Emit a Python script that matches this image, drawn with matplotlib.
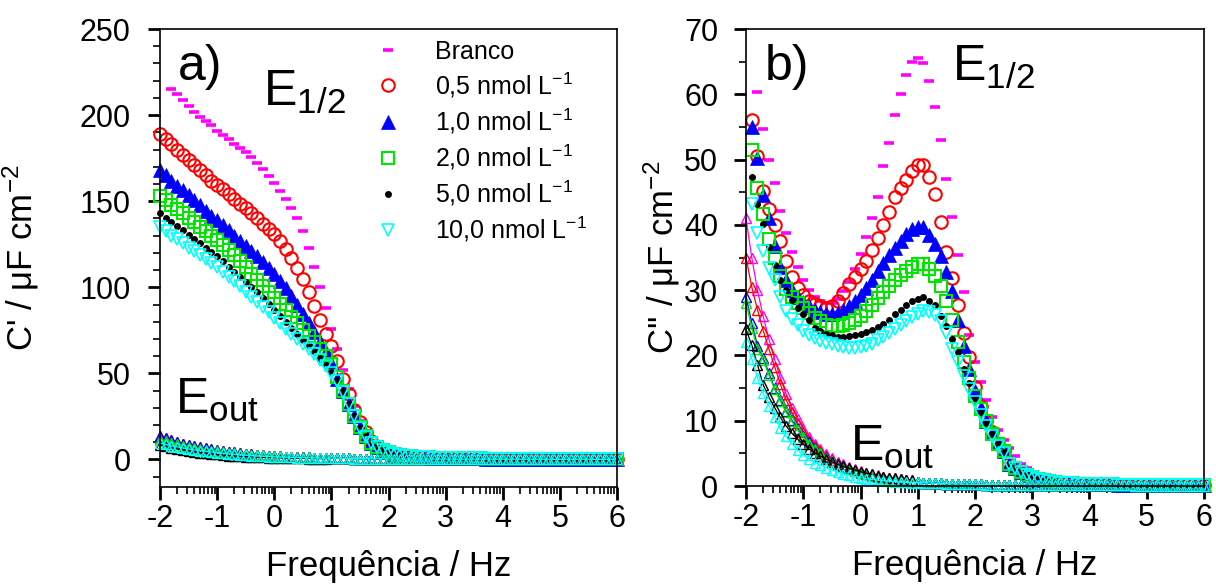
import numpy as np
import matplotlib.pyplot as plt
from matplotlib.ticker import MultipleLocator, LogLocator, FuncFormatter, NullFormatter

plt.rcParams['font.family'] = ['Liberation Sans', 'DejaVu Sans']
plt.rcParams['mathtext.fontset'] = 'custom'
plt.rcParams['mathtext.rm'] = 'Liberation Sans'
plt.rcParams['mathtext.it'] = 'Liberation Sans:italic'
plt.rcParams['mathtext.default'] = 'regular'

# measurement grid: log10(f / Hz) from -2 to 6, 10 points per decade
log_f = np.round(np.linspace(-2, 6, 81), 1)
freq = 10.0 ** log_f

labels = ["Branco", "0,5 nmol L$^{-1}$", "1,0 nmol L$^{-1}$",
          "2,0 nmol L$^{-1}$", "5,0 nmol L$^{-1}$", "10,0 nmol L$^{-1}$"]
colors = ["#ff00ff", "#ff0000", "#0000ff", "#00e600", "#000000", "#00ffff"]

# ---------------- panel a) C' , E1/2 ----------------
# high frequency part where all curves coincide (log f = 1.9 ... 6.0)
tail_a = [5.5, 4.2, 3.3, 2.7, 2.2, 1.9, 1.6, 1.4, 1.25, 1.1,
          1.0, 0.9, 0.82, 0.75, 0.7, 0.65, 0.6, 0.56, 0.52, 0.49,
          0.46, 0.43, 0.4, 0.38, 0.36, 0.34, 0.32, 0.3, 0.29, 0.28,
          0.27, 0.26, 0.25, 0.24, 0.23, 0.22, 0.21, 0.2, 0.2, 0.19,
          0.18, 0.18]
# log f = -1.8 ... 1.8
branco_a = [215, 212, 209, 205.5, 202, 199, 196.5, 194, 191, 188.5,
            186, 183.5, 181, 178.5, 175.5, 172, 168.5, 164.5, 160.5, 156,
            151.5, 146, 140, 132.5, 123, 112, 100, 88, 76, 64,
            52, 41, 31, 22.5, 15.5, 10.5, 7.5] + tail_a
# log f = -2.0 ... 1.8
c05_a = [189, 186, 183, 180, 177, 174, 171, 168, 165, 162,
         159.5, 157, 154, 151, 148.5, 146, 143, 140, 137, 134,
         131, 127, 122, 117, 111, 105, 97, 89, 81, 73,
         66, 57, 47, 38, 29, 22, 16, 11, 7.5] + tail_a
c10_a = [168, 165, 162, 159, 156.5, 153.5, 150.5, 147.5, 144.5, 141.5,
         139, 136, 133, 130, 127, 124, 121, 118, 114.5, 111,
         107.5, 103.5, 99.5, 95, 90, 84.5, 79.5, 74, 68.5, 62.5,
         56, 47, 39.5, 32, 25.5, 19, 13.5, 9.5, 7] + tail_a
c20_a = [153, 150.5, 148, 145.5, 143, 140.5, 138, 135, 132.5, 130,
         127.5, 124.5, 121.5, 118.5, 115, 111.5, 108, 104.5, 101, 97.5,
         94, 90.5, 87, 83, 79, 75, 71.5, 68, 64, 60,
         55.5, 48, 40, 32.5, 25.5, 19, 13.5, 9.5, 7] + tail_a
c50_a = [143, 140.5, 138, 135.5, 133, 130.5, 128, 125.5, 123, 120.5,
         118, 115, 112, 109, 106, 103, 100, 97, 93.5, 90.5,
         87, 83.5, 80, 76.5, 73, 69.5, 66.5, 63, 59, 55,
         51, 46, 39.5, 32, 25, 18.5, 13.5, 9.5, 7] + tail_a
c100_a = [135, 132.5, 130, 128, 125.5, 123, 121, 118.5, 116.5, 114,
          112, 109, 106, 103.5, 100.5, 97.5, 94.5, 91.5, 88.5, 85.5,
          82, 79, 76, 73, 70, 67, 64, 61, 57.5, 54,
          50, 45.5, 39, 32, 25, 18.5, 13, 9.5, 7] + tail_a

# ---------------- panel a) C' , Eout ----------------
tail_out_a = [0.8, 0.72, 0.65, 0.6, 0.55, 0.5, 0.46, 0.42, 0.39, 0.36,
              0.33, 0.31, 0.29, 0.27, 0.25, 0.24, 0.23, 0.22, 0.21, 0.2,
              0.19, 0.18, 0.17, 0.16, 0.15, 0.15, 0.14, 0.14, 0.13, 0.13,
              0.12, 0.12, 0.11, 0.11, 0.1, 0.1, 0.1, 0.09, 0.09, 0.09,
              0.08, 0.08, 0.08, 0.08, 0.07, 0.07, 0.07, 0.07, 0.06, 0.06,
              0.06]
# log f = -2.0 ... 0.9
out_a = [
    [13.5, 12.2, 11.1, 10.1, 9.2, 8.4, 7.6, 7.0, 6.4, 5.9, 5.4, 4.9, 4.5, 4.1, 3.7,
     3.4, 3.1, 2.8, 2.5, 2.3, 2.1, 1.9, 1.7, 1.55, 1.4, 1.3, 1.2, 1.1, 1.0, 0.9],
    [12.5, 11.4, 10.4, 9.5, 8.7, 8.0, 7.3, 6.7, 6.1, 5.6, 5.1, 4.7, 4.3, 3.9, 3.6,
     3.3, 3.0, 2.7, 2.45, 2.2, 2.0, 1.8, 1.65, 1.5, 1.35, 1.25, 1.15, 1.05, 0.95, 0.85],
    [13.8, 12.4, 11.2, 10.2, 9.2, 8.4, 7.6, 7.0, 6.4, 5.9, 5.4, 4.9, 4.5, 4.1, 3.7,
     3.4, 3.1, 2.8, 2.5, 2.3, 2.1, 1.9, 1.7, 1.55, 1.4, 1.3, 1.2, 1.1, 1.0, 0.9],
    [11.5, 10.5, 9.6, 8.8, 8.1, 7.4, 6.8, 6.2, 5.7, 5.2, 4.8, 4.4, 4.0, 3.7, 3.4,
     3.1, 2.8, 2.6, 2.35, 2.15, 1.95, 1.8, 1.6, 1.5, 1.35, 1.25, 1.15, 1.05, 0.95, 0.85],
    [8.5, 7.6, 6.8, 6.1, 5.5, 4.9, 4.4, 4.0, 3.6, 3.2, 2.9, 2.6, 2.3, 2.1, 1.9,
     1.7, 1.5, 1.35, 1.2, 1.1, 1.0, 0.9, 0.8, 0.72, 0.65, 0.6, 0.55, 0.5, 0.46, 0.42],
    [9.5, 8.7, 8.0, 7.3, 6.7, 6.1, 5.6, 5.1, 4.7, 4.3, 3.9, 3.6, 3.3, 3.0, 2.7,
     2.5, 2.3, 2.1, 1.9, 1.7, 1.55, 1.4, 1.3, 1.2, 1.1, 1.0, 0.9, 0.82, 0.75, 0.7],
]
out_a = [s + tail_out_a for s in out_a]

# ---------------- panel b) C'' , E1/2 ----------------
# log f = 2.6 ... 6.0
tail_b = [3.4, 2.7, 2.1, 1.7, 1.35, 1.1, 0.9, 0.75, 0.62, 0.52,
          0.45, 0.4, 0.36, 0.33, 0.3, 0.28, 0.26, 0.25, 0.24, 0.23,
          0.22, 0.21, 0.2, 0.2, 0.19, 0.19, 0.18, 0.18, 0.17, 0.17,
          0.17, 0.16, 0.16, 0.16, 0.15]
# log f = -1.8 ... 3.0
branco_b = [60.3, 54.7, 50, 46.4, 42.2, 38.8, 35.9, 33.5, 31.6, 30,
            28.9, 28.3, 28, 28.1, 28.7, 29.8, 31.3, 33.3, 35.6, 38.2,
            41, 44.2, 49, 52.6, 56.8, 60, 63, 65, 65.6, 64.8,
            62, 58, 53, 47, 41.2, 35.4, 29.7, 23.2, 19, 16,
            13.2, 10.5, 8.6, 7.1, 5.8, 4.6, 3.4, 2.7, 2.1] + tail_b[5:]
# log f = -1.9 ... 2.5
c05_b = [56, 50.5, 45.2, 42.5, 40, 37.5, 34.5, 32, 30.3, 29.2,
         28.4, 27.9, 27.5, 27.3, 27.6, 28.4, 29.6, 30.9, 32, 33.2,
         34.4, 36.1, 38, 40, 42, 44.2, 45.6, 46.8, 48.2, 49.1,
         49.2, 47.3, 44.8, 40.5, 35.8, 31.8, 27.8, 23.5, 19.7, 15.2,
         12.3, 10, 8.2, 6.5, 5.3] + tail_b
c10_b = [55, 50.3, 44.5, 41, 36.8, 33.6, 31.5, 30, 29, 28.2,
         27.5, 27, 26.6, 26.4, 26.3, 26.5, 26.9, 27.5, 28.3, 29.3,
         30.4, 31.6, 32.9, 34.2, 35.4, 36.5, 37.6, 38.6, 39.3, 39.7,
         39.7, 38.4, 37, 35.3, 32.8, 29.8, 25.5, 21.5, 18, 14.6,
         12, 10, 8.1, 6.6, 5.4] + tail_b
c20_b = [51.4, 45.7, 41.6, 37.8, 34.9, 32.2, 30.2, 29.0, 28.0, 27.2,
         26.5, 25.8, 25.2, 24.7, 24.5, 24.5, 24.7, 25.0, 25.4, 26.0,
         26.8, 27.8, 28.8, 29.7, 30.6, 31.5, 32.3, 33.0, 33.6, 34.0,
         34.0, 33.3, 32.2, 30.6, 28.3, 25.5, 22, 19, 16.5, 13.8,
         11.8, 9.9, 8.0, 6.5, 5.3] + tail_b
c50_b = [47.3, 43.2, 40.2, 36.6, 33.8, 31.6, 30.1, 28.5, 27.3, 26.3,
         25.4, 24.2, 23.7, 23.3, 23.1, 22.9, 22.9, 23, 23.1, 23.3,
         23.6, 23.9, 24.3, 24.8, 25.5, 26.3, 27, 27.7, 28.3, 28.7,
         28.9, 28.4, 27.7, 26, 24.5, 22.5, 20.5, 18, 15.8, 13.5,
         11.4, 9.6, 7.9, 6.4, 5.2] + tail_b
c100_b = [43.2, 38.8, 36, 33.4, 31.5, 29, 26.8, 25.6, 24.6, 23.8,
          23.2, 22.6, 22.2, 21.9, 21.7, 21.5, 21.3, 21.2, 21.2, 21.3,
          21.5, 21.8, 22.3, 22.8, 23.4, 24, 24.6, 25.2, 25.9, 26.4,
          26.8, 26.7, 26.2, 25.2, 23.5, 21, 19, 16.8, 14.8, 12.8,
          10.9, 9.2, 7.6, 6.2, 5.1] + tail_b

# ---------------- panel b) C'' , Eout ----------------
tail_out_b = [0.55, 0.5, 0.46, 0.42, 0.39, 0.36, 0.33, 0.31, 0.29, 0.27,
              0.25, 0.24, 0.22, 0.21, 0.2, 0.19, 0.18, 0.17, 0.16, 0.15,
              0.15, 0.14, 0.13, 0.13, 0.12, 0.12, 0.11, 0.11, 0.1, 0.1,
              0.1, 0.09, 0.09, 0.09, 0.08, 0.08, 0.08, 0.08, 0.07, 0.07,
              0.07, 0.07, 0.07, 0.06, 0.06, 0.06, 0.06, 0.06, 0.06, 0.05,
              0.05]
# log f = -2.0 ... 0.9
out_b = [
    [41, 35, 30, 26, 22.5, 19.4, 16.6, 14.1, 12, 10.3, 8.8, 7.5, 6.5, 5.6, 4.9,
     4.3, 3.75, 3.3, 2.9, 2.6, 2.3, 2.05, 1.82, 1.62, 1.45, 1.3, 1.17, 1.06, 0.96, 0.87],
    [35, 30.5, 27, 23.8, 21, 18.3, 15.6, 13.2, 11.3, 9.7, 8.3, 7.1, 6.1, 5.3, 4.6,
     4.0, 3.5, 3.1, 2.75, 2.45, 2.15, 1.9, 1.7, 1.52, 1.36, 1.22, 1.1, 1.0, 0.9, 0.82],
    [29, 25, 21.5, 19.6, 17.3, 15, 13.2, 11.5, 10.1, 8.8, 7.7, 6.7, 5.8, 5.1, 4.4,
     3.9, 3.4, 3.0, 2.65, 2.35, 2.05, 1.8, 1.6, 1.43, 1.28, 1.15, 1.04, 0.94, 0.85, 0.77],
    [28, 24.2, 21, 19.3, 17, 14.8, 13, 11.3, 9.9, 8.6, 7.5, 6.5, 5.7, 5.0, 4.3,
     3.8, 3.35, 2.95, 2.6, 2.3, 2.0, 1.78, 1.58, 1.4, 1.26, 1.13, 1.02, 0.92, 0.84, 0.76],
    [24, 21.6, 18.6, 15.5, 13.6, 12, 10.5, 9.2, 8.1, 7.2, 6.4, 5.7, 5.1, 4.6, 4.1,
     3.7, 3.3, 3.0, 2.7, 2.45, 2.2, 1.97, 1.77, 1.6, 1.44, 1.3, 1.17, 1.06, 0.96, 0.87],
    [22, 19.5, 16.6, 14.2, 12.3, 10.6, 8.9, 7.6, 6.5, 5.5, 4.7, 4.1, 3.6, 3.2, 2.8,
     2.45, 2.15, 1.9, 1.65, 1.45, 1.28, 1.13, 1.0, 0.9, 0.81, 0.73, 0.66, 0.6, 0.55, 0.5],
]
out_b = [s + tail_out_b for s in out_b]

half_a = [branco_a, c05_a, c10_a, c20_a, c50_a, c100_a]
half_b = [branco_b, c05_b, c10_b, c20_b, c50_b, c100_b]

styles = [
    dict(marker='_', color=colors[0], ms=7.5, mew=2.6),
    dict(marker='o', mfc='none', mec=colors[1], ms=9, mew=1.5),
    dict(marker='^', color=colors[2], mec=colors[2], ms=9.5, mew=0.5),
    dict(marker='s', mfc='none', mec=colors[3], ms=8, mew=1.5),
    dict(marker='o', color=colors[4], ms=5, mew=0),
    dict(marker='v', mfc='none', mec=colors[5], ms=8, mew=1.2),
]


def fx(vals):
    # series may start later than -2; they all end at log f = 6
    return freq[len(freq) - len(vals):]


fig = plt.figure(figsize=(12.16, 5.85), dpi=100)
ax_a = fig.add_axes([0.1316, 0.1675, 0.3758, 0.7829])
ax_b = fig.add_axes([0.6135, 0.1692, 0.3766, 0.7812])

handles = []
for ax, half, outs in [(ax_a, half_a, out_a), (ax_b, half_b, out_b)]:
    for i, vals in enumerate(half):
        h, = ax.plot(fx(vals), vals, ls='none', clip_on=False, **styles[i])
        if ax is ax_a:
            handles.append(h)
    for i, vals in enumerate(outs):
        ax.plot(fx(vals), vals, color=colors[i], lw=0.9, marker='^',
                mfc='none', mec=colors[i], ms=7, mew=1.0, clip_on=False)

for ax in (ax_a, ax_b):
    ax.set_xscale('log')
    ax.set_xlim(1e-2, 1e6)
    ax.xaxis.set_major_locator(LogLocator(base=10, numticks=20))
    ax.xaxis.set_minor_locator(LogLocator(base=10, subs=np.arange(2, 10), numticks=200))
    ax.xaxis.set_major_formatter(FuncFormatter(lambda v, p: '%d' % round(np.log10(v))))
    ax.xaxis.set_minor_formatter(NullFormatter())
    ax.tick_params(which='major', direction='out', length=9, width=2,
                   labelsize=22, top=False, right=False)
    ax.tick_params(which='minor', direction='out', length=5, width=1.2,
                   top=False, right=False)
    ax.tick_params(axis='x', pad=3)
    for sp in ax.spines.values():
        sp.set_linewidth(1.2)
    ax.set_xlabel("Frequência / Hz", fontsize=25, labelpad=12)

ax_a.set_ylim(-16, 250)
ax_a.yaxis.set_major_locator(MultipleLocator(50))
ax_a.yaxis.set_minor_locator(MultipleLocator(10))
ax_a.set_ylabel("C' / μF cm$^{-2}$", fontsize=25)
ax_a.yaxis.set_label_coords(-0.26, 0.5)
ax_a.tick_params(axis='y', pad=12)

ax_b.set_ylim(0, 70)
ax_b.yaxis.set_major_locator(MultipleLocator(10))
ax_b.yaxis.set_minor_locator(MultipleLocator(5))
ax_b.set_ylabel("C'' / μF cm$^{-2}$", fontsize=25)
ax_b.yaxis.set_label_coords(-0.14, 0.5)
ax_b.tick_params(axis='y', pad=11)

ax_a.text(0.039, 0.968, "a)", transform=ax_a.transAxes, fontsize=36, va='top')
ax_a.text(0.225, 0.912, "E$_{1/2}$", transform=ax_a.transAxes, fontsize=36, va='top')
ax_a.text(0.033, 0.24, "E$_{out}$", transform=ax_a.transAxes, fontsize=36, va='top')
ax_b.text(0.041, 0.968, "b)", transform=ax_b.transAxes, fontsize=36, va='top')
ax_b.text(0.45, 0.968, "E$_{1/2}$", transform=ax_b.transAxes, fontsize=36, va='top')
ax_b.text(0.227, 0.135, "E$_{out}$", transform=ax_b.transAxes, fontsize=36, va='top')

ax_a.legend(handles, labels, loc='upper left', bbox_to_anchor=(0.4716, 0.977),
            frameon=False, fontsize=18, handlelength=1.0, handletextpad=1.38,
            labelspacing=0.27, borderpad=0, borderaxespad=0)

fig.savefig("out.png", dpi=100)
